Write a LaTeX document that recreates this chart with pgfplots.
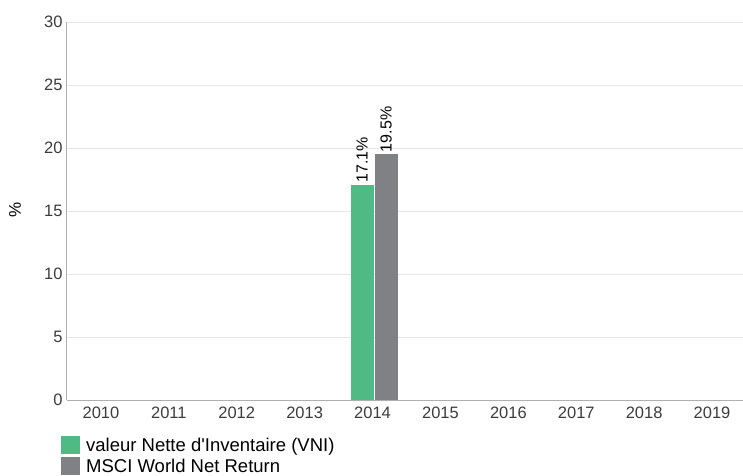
\documentclass[border=0pt]{standalone}
\usepackage{pgfplots}
\pgfplotsset{compat=1.18}
\usepackage{fontspec}
\setmainfont{Liberation Sans}
\definecolor{vgreen}{RGB}{80,186,132}
\definecolor{vgray}{RGB}{128,129,133}
\definecolor{gridc}{RGB}{230,230,230}
\definecolor{axc}{RGB}{175,175,175}
\definecolor{txt}{RGB}{60,60,60}
\begin{document}
\begin{tikzpicture}[x=1pt,y=1pt]
\useasboundingbox (0,0) rectangle (743,475);
\begin{axis}[
  at={(67pt,75pt)}, anchor=south west,
  scale only axis, width=679pt, height=378pt,
  xmin=-0.5, xmax=9.5, ymin=0, ymax=30,
  ytick={0,5,...,30}, xtick={0,...,9},
  xticklabels={2010,2011,2012,2013,2014,2015,2016,2017,2018,2019},
  /pgf/number format/assume math mode=true,
  ymajorgrids, grid style={gridc, line width=0.8pt},
  axis x line*=bottom, axis y line*=left,
  axis line style={axc, line width=1pt, -},
  major tick length=0pt,
  tick label style={font=\fontsize{16.5}{18}\selectfont, text=txt},
  yticklabel style={xshift=-1pt},
  xticklabel style={yshift=-3pt},
  ylabel={\%},
  ylabel style={at={(axis description cs:-0.0766,0.503)}, anchor=center, font=\fontsize{17}{18}\selectfont, text=black},
  ybar=1pt, bar width=23pt,
  nodes near coords={\pgfmathprintnumber[fixed,precision=1]{\pgfplotspointmeta}\%},
  every node near coord/.append style={rotate=90, anchor=west, font=\fontsize{16}{18}\selectfont, text=black, inner sep=2pt},
  legend image code/.code={\fill[#1] (0pt,-9pt) rectangle (19pt,9pt);},
  legend style={at={(rel axis cs:0,0)}, anchor=north west, xshift=-6pt, yshift=-36pt,
    draw=none, fill=none, inner sep=0pt, row sep=3pt,
    nodes={inner xsep=6pt, inner ysep=0pt},
    font=\fontsize{18.5}{20}\selectfont, text=black},
  legend cell align=left,
]
\addplot[fill=vgreen, draw=none, bar shift=-10.5pt] coordinates {(4,17.1)};
\addplot[fill=vgray, draw=none, bar shift=13.5pt] coordinates {(4,19.5)};
\legend{valeur Nette d\textquotesingle Inventaire (VNI), MSCI World Net Return}
\end{axis}
\end{tikzpicture}
\end{document}
